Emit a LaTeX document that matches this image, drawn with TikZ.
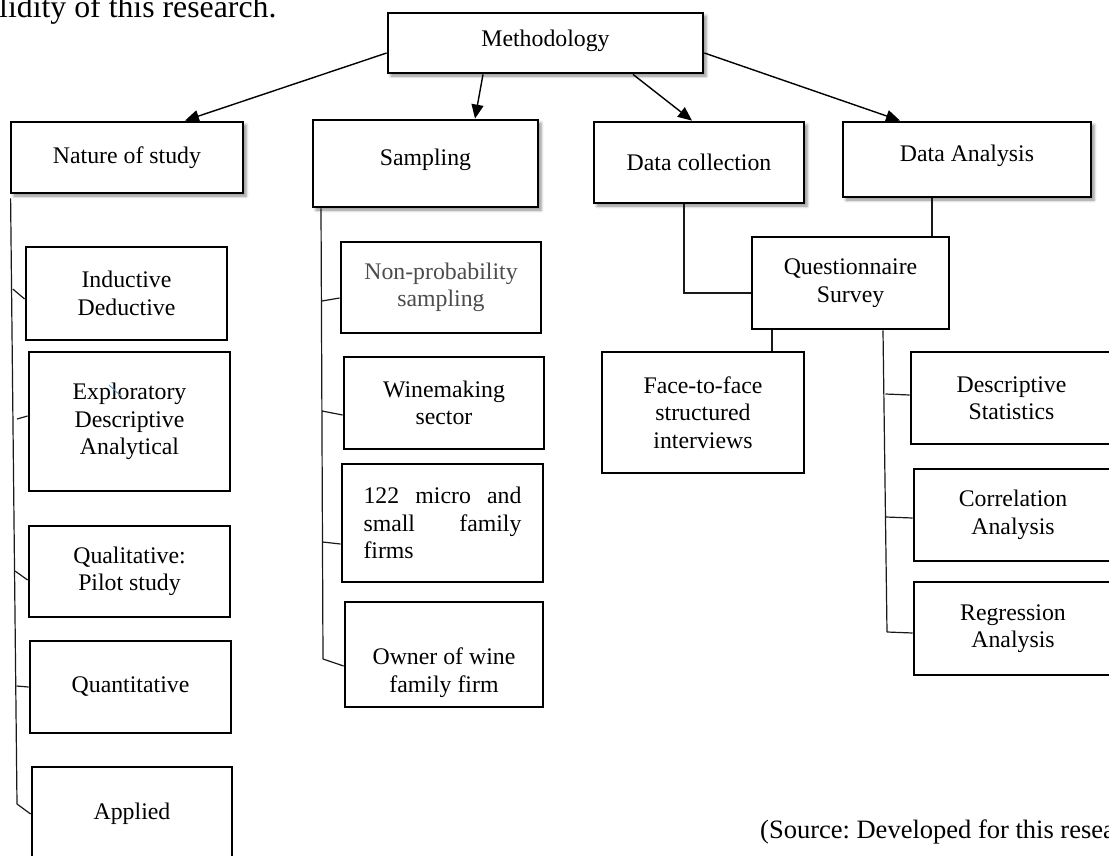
\documentclass[tikz,border=0pt]{standalone}
\usepackage{fontspec}
\setmainfont{Liberation Serif}
\frenchspacing
\usetikzlibrary{arrows.meta,shadows.blur}
\begin{document}
\begin{tikzpicture}[x=1pt,y=-1pt,
  box/.style={draw=black, line width=2.8pt, fill=white, align=center, inner sep=2pt,
              font=\fontsize{23.8}{27.5}\selectfont},
  sz/.style 2 args={minimum width=#1pt, minimum height=#2pt},
  shade/.style={blur shadow={shadow xshift=3pt, shadow yshift=-3pt,
                shadow blur radius=3pt, shadow opacity=45}},
  tx/.style={align=center, font=\fontsize{23.8}{27.5}\selectfont},
  link/.style={line width=1.2pt, draw=black!90},
  arr/.style={line width=1.4pt, -{Triangle[length=14pt,width=12pt]}}]

\useasboundingbox (0,0) rectangle (1109,855);

% running text around the figure
\node[anchor=base west, inner sep=0, font=\fontsize{31.8}{36}\selectfont] (lead) at (-1,17) {lidity of this research.};
\node[anchor=base west, inner sep=0, font=\fontsize{26.5}{30}\selectfont] (src) at (760,838) {(Source: Developed for this resea};

% top level
\node[box, shade, sz={315}{60}, label={[tx,yshift=2.5pt]center:Methodology}] (meth) at (545.5,43) {};
\node[box, shade, sz={232}{71}] (nat) at (127,157.5) {Nature of study};
\node[box, shade, sz={225}{87}, label={[tx,yshift=4pt]center:Sampling}] (samp) at (425.5,163.5) {};
\node[box, shade, sz={210}{81}] (dcol) at (699,162.5) {Data collection};
\node[box, shade, sz={248}{75}, label={[tx,yshift=3.5pt]center:Data Analysis}] (dana) at (967,159.5) {};

% nature of study
\node[box, sz={201}{93}] (ind) at (126.5,293.5) {Inductive\\Deductive};
\node[box, sz={201}{139}] (expl) at (129.5,421.5) {Exploratory\\Descriptive\\Analytical};
\node[box, sz={201}{91}] (qual) at (129.5,571.5) {Qualitative:\\Pilot study};
\node[box, sz={201}{92}] (quant) at (130.5,687) {Quantitative};
\node[box, sz={200}{94}] (appl) at (132,814) {Applied};

% sampling
\node[box, sz={200}{91}, text=black!70] (np) at (441,287.5) {Non-probability\\sampling};
\node[box, sz={200}{92}] (wine) at (444,403) {Winemaking\\sector};
\node[box, sz={201}{118}, align=left] (micro) at (442.5,523)
  {\hbox to 158pt{122\hfill micro\hfill and}\\\hbox to 158pt{small\hfill family}\\firms};
\node[box, sz={198}{105}, label={[tx,yshift=-18pt]center:{Owner of wine\\family firm}}] (own) at (444,654.5) {};

% data collection and analysis
\node[box, sz={197}{92}] (quest) at (850.5,283) {Questionnaire\\Survey};
\node[box, sz={202}{121}] (face) at (703,412.5) {Face-to-face\\structured\\interviews};
\node[box, sz={201}{92}] (desc) at (1011.5,398) {Descriptive\\Statistics};
\node[box, sz={198}{92}] (corr) at (1013,515) {Correlation\\Analysis};
\node[box, sz={198}{93}] (regr) at (1013,628.5) {Regression\\Analysis};

% arrows from the root
\draw[arr] ([yshift=-10pt]meth.west) -- ([xshift=58pt]nat.north);
\draw[arr] ([xshift=-62.5pt]meth.south) -- ([xshift=49.5pt]samp.north);
\draw[arr] ([xshift=87.5pt]meth.south) -- ([xshift=-7pt]dcol.north);
\draw[arr] ([yshift=-10pt]meth.east) -- ([xshift=-67pt]dana.north);

% nature of study spine
\coordinate (n1) at (12.8,289);
\coordinate (n2) at (17,419);
\coordinate (n3) at (15,571);
\coordinate (n4) at (16.5,686);
\coordinate (n5) at (17,804);
\draw[link] ([xshift=1pt,yshift=-4pt]nat.south west) -- (n5);
\draw[link] (n1) -- ([yshift=-5.5pt]ind.west);
\draw[link] (n2) -- ([yshift=5.5pt]expl.west);
\draw[link] (n3) -- ([yshift=-8.5pt]qual.west);
\draw[link] (n4) -- (quant.west);
\draw[link] (n5) -- (appl.west);

% sampling spine
\coordinate (s1) at (322,301);
\coordinate (s2) at (322,411);
\coordinate (s3) at (322.5,542);
\coordinate (s4) at (323,659);
\draw[link] ([xshift=-104.5pt]samp.south) -- (s4);
\draw[link] (s1) -- ([yshift=-10.5pt]np.west);
\draw[link] (s2) -- ([yshift=-12pt]wine.west);
\draw[link] (s3) -- ([yshift=-21pt]micro.west);
\draw[link] (s4) -- ([yshift=-11.5pt]own.west);

% data collection / analysis links
\draw[link] ([xshift=-15pt]dcol.south) |- ([yshift=-10pt]quest.west);
\draw[link] ([xshift=-35pt]dana.south) -- ([xshift=-35pt]dana.south |- quest.north);
\draw[link] ([xshift=-78.5pt]quest.south) -- ([xshift=-78.5pt]quest.south |- face.north);

% analysis spine
\coordinate (r1) at (885.5,394);
\coordinate (r2) at (886,517);
\coordinate (r3) at (887,632);
\draw[link] ([xshift=32.5pt]quest.south) -- (r3);
\draw[link] (r1) -- ([yshift=3pt]desc.west);
\draw[link] (r2) -- ([yshift=-3pt]corr.west);
\draw[link] (r3) -- ([yshift=-4.5pt]regr.west);

% small pen stroke over the first word
\draw[line width=0.9pt, draw={rgb,255:red,91;green,155;blue,213}] (109,385) -- (122,397);
\end{tikzpicture}
\end{document}
